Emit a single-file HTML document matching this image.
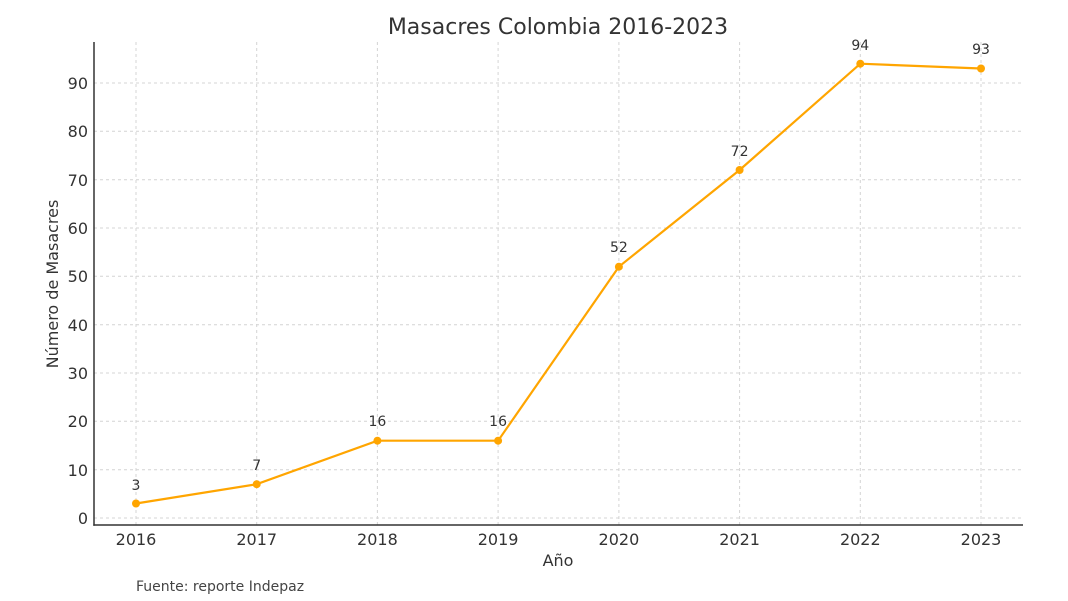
<!DOCTYPE html><html><head><meta charset="utf-8"><style>body{margin:0;background:#fff}svg{display:block;font-family:"DejaVu Sans","Liberation Sans",sans-serif}</style></head><body>
<svg width="1068" height="601" viewBox="0 0 1068 601">
<text x="558" y="34" text-anchor="middle" font-size="22" fill="#333">Masacres Colombia 2016-2023</text>
<g stroke="#d4d4d4" stroke-dasharray="3,3" stroke-width="1">
<line x1="94" x2="1023" y1="518" y2="518"/><line x1="94" x2="1023" y1="469.7" y2="469.7"/><line x1="94" x2="1023" y1="421.3" y2="421.3"/><line x1="94" x2="1023" y1="373" y2="373"/><line x1="94" x2="1023" y1="324.7" y2="324.7"/><line x1="94" x2="1023" y1="276.3" y2="276.3"/><line x1="94" x2="1023" y1="228" y2="228"/><line x1="94" x2="1023" y1="179.7" y2="179.7"/><line x1="94" x2="1023" y1="131.3" y2="131.3"/><line x1="94" x2="1023" y1="83" y2="83"/>
<line y1="42" y2="525" x1="136" x2="136"/><line y1="42" y2="525" x1="256.7" x2="256.7"/><line y1="42" y2="525" x1="377.4" x2="377.4"/><line y1="42" y2="525" x1="498.1" x2="498.1"/><line y1="42" y2="525" x1="618.9" x2="618.9"/><line y1="42" y2="525" x1="739.6" x2="739.6"/><line y1="42" y2="525" x1="860.3" x2="860.3"/><line y1="42" y2="525" x1="981" x2="981"/>
</g>
<g stroke="#333" stroke-width="1.5"><line x1="94" y1="42" x2="94" y2="525.7"/><line x1="93.3" y1="525" x2="1023" y2="525"/></g>
<g font-size="16" fill="#333" text-anchor="end">
<text x="88" y="524">0</text><text x="88" y="476">10</text><text x="88" y="427">20</text><text x="88" y="379">30</text><text x="88" y="331">40</text><text x="88" y="282">50</text><text x="88" y="234">60</text><text x="88" y="186">70</text><text x="88" y="137">80</text><text x="88" y="89">90</text></g>
<g font-size="16" fill="#333" text-anchor="middle">
<text x="136" y="545">2016</text><text x="256.7" y="545">2017</text><text x="377.4" y="545">2018</text><text x="498.1" y="545">2019</text><text x="618.9" y="545">2020</text><text x="739.6" y="545">2021</text><text x="860.3" y="545">2022</text><text x="981" y="545">2023</text></g>
<text x="558" y="566" text-anchor="middle" font-size="16" fill="#333">Año</text>
<text transform="translate(58,284) rotate(-90)" text-anchor="middle" font-size="16" fill="#333">Número de Masacres</text>
<polyline fill="none" stroke="#FFA500" stroke-width="2.2" points="136,503.5 256.7,484.2 377.4,440.7 498.1,440.7 618.9,266.7 739.6,170 860.3,63.7 981,68.5"/>
<g fill="#FFA500"><circle cx="136" cy="503.5" r="4"/><circle cx="256.7" cy="484.2" r="4"/><circle cx="377.4" cy="440.7" r="4"/><circle cx="498.1" cy="440.7" r="4"/><circle cx="618.9" cy="266.7" r="4"/><circle cx="739.6" cy="170" r="4"/><circle cx="860.3" cy="63.7" r="4"/><circle cx="981" cy="68.5" r="4"/></g>
<g font-size="14" fill="#333" text-anchor="middle">
<text x="136" y="490">3</text><text x="256.7" y="470">7</text><text x="377.4" y="426">16</text><text x="498.1" y="426">16</text><text x="618.9" y="252">52</text><text x="739.6" y="156">72</text><text x="860.3" y="50">94</text><text x="981" y="54">93</text></g>
<text x="136" y="591" font-size="14" fill="#444">Fuente: reporte Indepaz</text>
</svg></body></html>
